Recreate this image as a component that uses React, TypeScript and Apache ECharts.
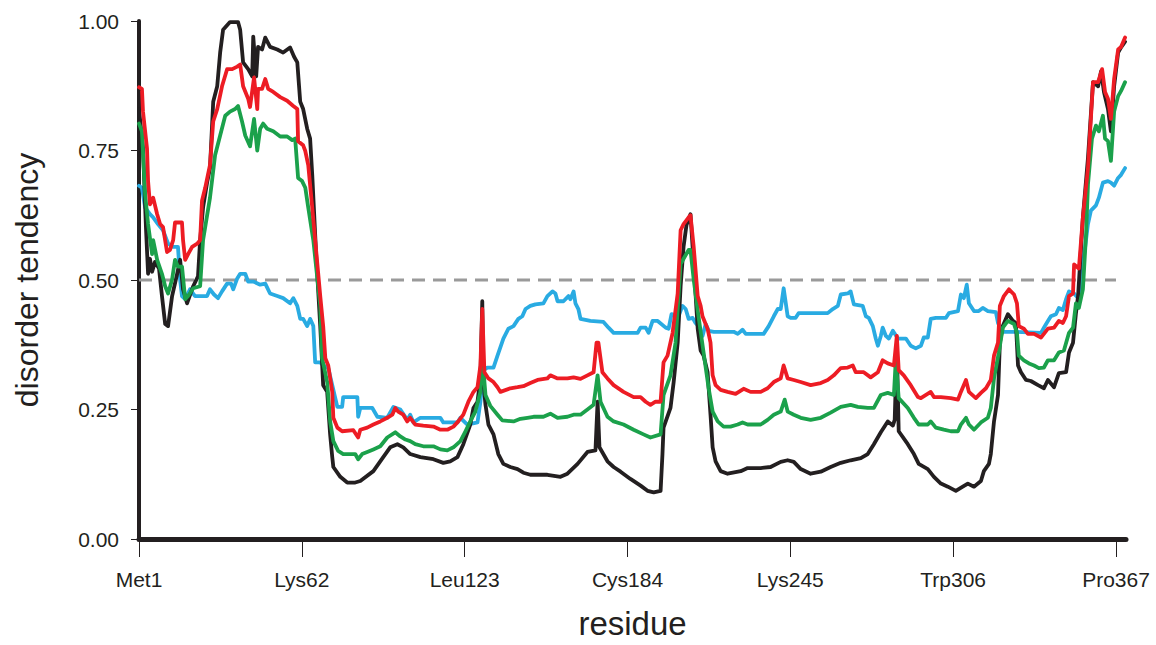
import React, { useEffect, useRef } from "react";
import * as echarts from "echarts";

const residueTicks = [1, 62, 123, 184, 245, 306, 367];
const residueLabels = ["Met1", "Lys62", "Leu123", "Cys184", "Lys245", "Trp306", "Pro367"];
const valueTicks = [0, 0.25, 0.5, 0.75, 1];
const thresholdX = [1, 367];
const thresholdY = [0.5, 0.5];

const blackX = [1, 2.5, 3.6, 4.4, 5.1, 5.9, 7, 8.5, 9.6, 10.8, 11.9, 13.4, 15.3, 16.4, 17.5, 19, 21.3, 23.1, 23.9, 25, 26.5, 27.6, 28.8, 30.3, 31.4, 32.5, 35.1, 38.1, 38.9, 40, 41.9, 43.4, 43.8, 44.9, 45.6, 47.1, 48.3, 50.1, 52.8, 55, 57.6, 59.1, 60.3, 61.4, 62.5, 64, 65.1, 65.9, 67.4, 68.9, 70, 71.5, 72.6, 73.4, 73.8, 76.4, 79, 82, 83.9, 88.8, 92.5, 95.1, 97.8, 100, 102.6, 106.4, 111.3, 115, 117.6, 120.3, 122.5, 125.1, 126.3, 127.8, 128.9, 129.6, 130, 130.8, 131.9, 133.8, 135.6, 137.5, 140.1, 142.8, 145, 147.6, 154, 158.9, 161.5, 165.3, 169, 172, 172.8, 173.5, 176.5, 178.8, 181.4, 185.1, 188.9, 191.5, 193.8, 196.4, 197.1, 197.5, 200.1, 201.3, 202.8, 203.9, 205, 206.1, 207.6, 208.8, 210.3, 211.4, 212.5, 214, 215.1, 215.9, 217, 218.9, 221.5, 226.4, 229, 233.9, 237.6, 241.4, 244, 246.3, 248.9, 252.6, 256.4, 260.1, 263.9, 267.6, 271.4, 274, 276.3, 278.9, 281.5, 283.4, 284.1, 284.9, 285.6, 289, 291.3, 293.1, 296.5, 298.8, 301.4, 304, 307, 309.6, 311.5, 313.8, 316.4, 317.5, 319.4, 320.1, 321.3, 322.8, 323.5, 324.6, 326.5, 328.4, 329.5, 330.3, 331.4, 333.3, 335.1, 337.8, 340, 341.5, 343.8, 345.6, 348.3, 349.4, 350.9, 352, 352.8, 354.6, 356.5, 358.4, 360.3, 361.4, 362.5, 364, 365.1, 366.3, 367.8, 368.9, 370.4];
const blackY = [0.83, 0.754, 0.602, 0.512, 0.541, 0.516, 0.535, 0.522, 0.469, 0.415, 0.411, 0.469, 0.512, 0.539, 0.482, 0.455, 0.488, 0.507, 0.577, 0.64, 0.688, 0.716, 0.844, 0.874, 0.939, 0.983, 0.998, 0.998, 0.983, 0.92, 0.907, 0.893, 0.97, 0.893, 0.95, 0.945, 0.968, 0.95, 0.945, 0.939, 0.949, 0.931, 0.92, 0.844, 0.83, 0.792, 0.773, 0.703, 0.545, 0.411, 0.297, 0.284, 0.202, 0.158, 0.139, 0.12, 0.109, 0.109, 0.112, 0.131, 0.158, 0.177, 0.183, 0.177, 0.164, 0.158, 0.154, 0.147, 0.15, 0.158, 0.183, 0.221, 0.253, 0.265, 0.31, 0.459, 0.303, 0.259, 0.221, 0.202, 0.164, 0.145, 0.139, 0.135, 0.128, 0.124, 0.124, 0.12, 0.126, 0.145, 0.168, 0.171, 0.265, 0.177, 0.15, 0.139, 0.13, 0.116, 0.103, 0.093, 0.09, 0.093, 0.164, 0.215, 0.253, 0.303, 0.379, 0.488, 0.564, 0.606, 0.627, 0.531, 0.406, 0.364, 0.354, 0.322, 0.24, 0.177, 0.15, 0.131, 0.126, 0.131, 0.137, 0.137, 0.139, 0.149, 0.152, 0.149, 0.135, 0.126, 0.13, 0.139, 0.147, 0.152, 0.156, 0.164, 0.183, 0.206, 0.227, 0.219, 0.23, 0.37, 0.208, 0.183, 0.164, 0.145, 0.135, 0.12, 0.107, 0.101, 0.093, 0.101, 0.107, 0.101, 0.112, 0.131, 0.145, 0.164, 0.227, 0.278, 0.379, 0.411, 0.434, 0.421, 0.417, 0.335, 0.322, 0.307, 0.305, 0.297, 0.291, 0.307, 0.293, 0.32, 0.322, 0.36, 0.379, 0.436, 0.469, 0.621, 0.735, 0.882, 0.874, 0.903, 0.863, 0.83, 0.787, 0.874, 0.939, 0.949, 0.96];

const redX = [1, 2.1, 2.5, 4, 4.4, 5.1, 6.3, 7.8, 8.9, 10, 11.5, 12.6, 13.8, 14.5, 17.1, 17.5, 18.3, 19.4, 20.9, 22.8, 23.9, 24.6, 25.8, 27.6, 28.8, 30.3, 32.1, 34, 35.9, 37.8, 38.9, 40, 41.9, 42.6, 44.1, 45.3, 45.6, 47.1, 48.3, 49.4, 51.3, 53.9, 56.5, 58.8, 60.3, 60.6, 62.5, 63.3, 64.4, 65.9, 67, 68.9, 70, 70.8, 71.9, 73.4, 73.8, 75.3, 77.1, 81.3, 83.1, 83.9, 86.5, 88.8, 91.4, 94, 95.9, 97, 98.1, 100, 101.5, 102.6, 104.5, 107.5, 111.3, 113.9, 116.5, 118.8, 120.6, 122.5, 124.4, 126.3, 127.8, 128.9, 129.6, 130.4, 131.9, 133.8, 135.3, 136.4, 140.1, 142.8, 145, 147.6, 150.3, 154, 155.1, 157.8, 161.5, 163.8, 166.4, 169, 171.3, 172.4, 173.1, 174.6, 176.5, 178.8, 182.5, 186.3, 188.9, 190.8, 192.6, 194.5, 196.4, 197.5, 199, 200.9, 202.8, 203.9, 205, 206.9, 207.6, 208.8, 210.3, 211.4, 212.1, 214, 215.1, 215.9, 217, 218.9, 221.5, 224.5, 227.5, 230.1, 233.9, 236.5, 238.8, 241.4, 242.5, 244, 246.3, 248.9, 252.6, 256.4, 259, 261.3, 263.9, 266.5, 268.4, 269.5, 272.5, 275.1, 277.8, 279.6, 281.5, 283.8, 284.9, 285.6, 287.5, 290.1, 292.8, 293.9, 297.6, 298.8, 301.4, 305.1, 307.8, 308.9, 310.8, 311.9, 314.5, 316.4, 318.3, 320.1, 321.3, 322.8, 323.5, 325, 326.9, 328.8, 329.9, 330.6, 332.5, 334, 336.3, 338.9, 340, 341.5, 343.8, 345.6, 347.1, 348.3, 349.4, 350.9, 351.3, 353.1, 354.6, 356.5, 358.4, 360.3, 361.8, 362.9, 364, 365.1, 366.3, 367.8, 368.9, 370.4];
const redY = [0.872, 0.869, 0.825, 0.754, 0.691, 0.646, 0.659, 0.627, 0.608, 0.602, 0.554, 0.558, 0.577, 0.611, 0.611, 0.577, 0.539, 0.55, 0.564, 0.57, 0.577, 0.653, 0.678, 0.722, 0.806, 0.83, 0.874, 0.907, 0.907, 0.912, 0.916, 0.874, 0.85, 0.834, 0.891, 0.83, 0.869, 0.869, 0.888, 0.869, 0.863, 0.853, 0.846, 0.836, 0.83, 0.768, 0.76, 0.749, 0.722, 0.64, 0.577, 0.469, 0.411, 0.349, 0.335, 0.284, 0.234, 0.215, 0.208, 0.21, 0.196, 0.211, 0.215, 0.221, 0.227, 0.234, 0.24, 0.253, 0.246, 0.24, 0.227, 0.234, 0.221, 0.219, 0.217, 0.211, 0.211, 0.217, 0.227, 0.24, 0.265, 0.284, 0.293, 0.335, 0.444, 0.322, 0.31, 0.303, 0.293, 0.284, 0.291, 0.293, 0.295, 0.301, 0.307, 0.31, 0.316, 0.31, 0.31, 0.312, 0.309, 0.316, 0.322, 0.379, 0.379, 0.322, 0.31, 0.297, 0.284, 0.274, 0.274, 0.265, 0.259, 0.265, 0.265, 0.341, 0.354, 0.398, 0.474, 0.596, 0.608, 0.621, 0.625, 0.564, 0.469, 0.45, 0.43, 0.406, 0.379, 0.316, 0.297, 0.288, 0.284, 0.28, 0.29, 0.284, 0.284, 0.291, 0.303, 0.31, 0.335, 0.31, 0.307, 0.303, 0.297, 0.301, 0.307, 0.316, 0.33, 0.331, 0.335, 0.322, 0.322, 0.312, 0.322, 0.345, 0.339, 0.335, 0.392, 0.326, 0.316, 0.297, 0.274, 0.272, 0.284, 0.274, 0.274, 0.272, 0.269, 0.284, 0.307, 0.284, 0.272, 0.282, 0.291, 0.307, 0.354, 0.379, 0.45, 0.469, 0.482, 0.472, 0.455, 0.411, 0.406, 0.396, 0.396, 0.389, 0.396, 0.406, 0.408, 0.421, 0.417, 0.43, 0.469, 0.474, 0.53, 0.522, 0.621, 0.716, 0.882, 0.882, 0.907, 0.863, 0.85, 0.811, 0.888, 0.945, 0.95, 0.968];

const greenX = [1, 2.1, 3.3, 4.4, 5.9, 6.3, 7.8, 9.6, 10.8, 11.9, 13.4, 14.5, 15.6, 17.1, 18.3, 19.4, 21.3, 23.9, 25, 27.6, 29.5, 31.4, 33.3, 35.1, 37, 38.1, 39.6, 40.8, 42.6, 44.1, 45.3, 46.4, 47.5, 49, 51.3, 53.9, 56.5, 58.4, 59.5, 60.6, 62.1, 63.3, 64.4, 66.3, 68.9, 69.6, 71.5, 72.6, 73.8, 75.6, 77.5, 82, 83.1, 84.6, 86.5, 88.8, 91.4, 94, 97, 98.9, 100.8, 102.6, 104.5, 107.5, 111.3, 113.9, 116.5, 118.8, 121.4, 123.3, 125.1, 127, 128.9, 129.6, 130.8, 132.6, 135.3, 137.1, 141.3, 143.9, 146.5, 148.8, 152.5, 155.1, 157.8, 161.5, 163.8, 166.4, 169, 171.3, 172.8, 173.9, 176.5, 178.8, 182.5, 186.3, 190, 192.6, 196.4, 197.5, 200.1, 202, 203.9, 205, 206.9, 207.6, 208.8, 210.6, 212.5, 214.4, 215.9, 217.8, 220, 222.6, 225.3, 227.1, 229, 233.9, 236.5, 238.8, 241.4, 242.9, 244, 246.3, 248.9, 252.6, 256.4, 260.1, 263.9, 267.6, 270.3, 274, 276.3, 278.9, 281.5, 283.8, 284.5, 285.6, 289, 291.3, 293.1, 296.5, 297.6, 299.5, 302.5, 305.1, 307.8, 308.9, 310.8, 311.9, 313.8, 316.4, 319, 320.1, 321.3, 323.1, 324.6, 326.5, 328.8, 329.9, 330.6, 332.5, 334.4, 336.3, 338.1, 340, 341.5, 343.8, 345.6, 347.5, 349.4, 350.9, 352, 353.1, 354.6, 355.8, 356.5, 358, 359.5, 360.6, 362.1, 362.9, 364, 365.1, 366.3, 367.8, 368.9, 370.4];
const greenY = [0.802, 0.787, 0.665, 0.608, 0.55, 0.577, 0.539, 0.512, 0.488, 0.474, 0.501, 0.539, 0.526, 0.526, 0.463, 0.469, 0.484, 0.488, 0.577, 0.659, 0.741, 0.779, 0.817, 0.825, 0.83, 0.836, 0.806, 0.779, 0.758, 0.811, 0.75, 0.792, 0.802, 0.792, 0.787, 0.777, 0.777, 0.77, 0.773, 0.697, 0.691, 0.678, 0.64, 0.577, 0.45, 0.349, 0.303, 0.227, 0.189, 0.17, 0.164, 0.164, 0.154, 0.164, 0.168, 0.173, 0.179, 0.196, 0.206, 0.198, 0.192, 0.189, 0.183, 0.179, 0.179, 0.173, 0.171, 0.177, 0.189, 0.208, 0.227, 0.246, 0.284, 0.354, 0.278, 0.257, 0.24, 0.229, 0.227, 0.232, 0.234, 0.236, 0.236, 0.242, 0.234, 0.236, 0.24, 0.24, 0.25, 0.259, 0.316, 0.265, 0.236, 0.227, 0.221, 0.211, 0.202, 0.196, 0.202, 0.278, 0.316, 0.379, 0.531, 0.541, 0.558, 0.558, 0.501, 0.43, 0.36, 0.291, 0.246, 0.227, 0.217, 0.217, 0.221, 0.225, 0.221, 0.221, 0.23, 0.24, 0.246, 0.269, 0.246, 0.24, 0.234, 0.23, 0.234, 0.244, 0.255, 0.259, 0.255, 0.253, 0.253, 0.278, 0.282, 0.278, 0.345, 0.272, 0.253, 0.234, 0.221, 0.221, 0.227, 0.215, 0.211, 0.208, 0.208, 0.221, 0.234, 0.221, 0.211, 0.225, 0.234, 0.253, 0.31, 0.36, 0.408, 0.421, 0.415, 0.398, 0.354, 0.345, 0.339, 0.335, 0.33, 0.331, 0.345, 0.345, 0.36, 0.364, 0.398, 0.408, 0.455, 0.446, 0.482, 0.589, 0.684, 0.773, 0.798, 0.787, 0.817, 0.773, 0.768, 0.73, 0.825, 0.855, 0.865, 0.882];

const blueX = [1, 2.1, 3.3, 5.1, 6.3, 8.1, 10, 11.9, 13.8, 15.6, 16.4, 17.1, 18.3, 20.1, 22, 26.5, 27.6, 29.1, 30.6, 32.1, 34, 35.5, 36.3, 37.8, 38.9, 40.8, 41.9, 43.8, 46.4, 48.3, 50.1, 52.8, 55, 57.6, 58.8, 60.3, 61.4, 62.5, 64, 65.1, 66.3, 67, 68.9, 70, 71.9, 73.4, 75.3, 77.1, 77.5, 82.8, 83.1, 83.9, 88.4, 90.3, 94, 96.3, 98.9, 101.5, 102.6, 103.8, 106.4, 113.9, 115, 120.3, 121.4, 124, 127.8, 128.9, 130, 131.5, 133.8, 135.3, 137.5, 139.4, 141.3, 143.1, 144.6, 145.8, 147.6, 149.5, 152.5, 154, 155.9, 157, 157.8, 160, 161.9, 162.6, 163.8, 164.5, 165.6, 166.4, 170.1, 175, 176.9, 178.8, 184, 187.8, 188.9, 190.8, 191.9, 193.4, 195.3, 198.3, 199.4, 200.5, 203.1, 204.6, 205.8, 206.9, 208.4, 209.5, 210.6, 212.1, 213.3, 214.4, 216.3, 223.8, 225.3, 227.1, 228.3, 235, 236.9, 238.8, 240.3, 241.4, 242.5, 244, 245.1, 247, 248.1, 259, 260.9, 262.8, 263.9, 266.5, 267.6, 268.8, 272.1, 273.3, 274.4, 275.9, 277, 277.8, 278.9, 279.6, 280.8, 281.9, 283.4, 285.3, 288.3, 290.1, 292, 293.9, 295, 296.5, 297.6, 299.5, 303.3, 304.4, 307.8, 308.9, 310, 311.1, 311.9, 313.8, 315.6, 317.1, 319, 322, 322.8, 324.6, 328.8, 338.9, 340, 341.5, 342.6, 344.5, 345.6, 347.1, 348.3, 349.4, 351.3, 352.8, 353.9, 355, 356.5, 357.6, 359.5, 360.6, 362.1, 364, 365.1, 366.3, 367.8, 368.9, 370.4];
const blueY = [0.682, 0.678, 0.64, 0.627, 0.621, 0.608, 0.596, 0.57, 0.564, 0.564, 0.501, 0.469, 0.463, 0.482, 0.469, 0.469, 0.482, 0.472, 0.465, 0.478, 0.493, 0.493, 0.482, 0.503, 0.512, 0.512, 0.497, 0.497, 0.491, 0.493, 0.474, 0.469, 0.465, 0.455, 0.465, 0.45, 0.425, 0.425, 0.411, 0.425, 0.411, 0.341, 0.341, 0.335, 0.33, 0.297, 0.255, 0.255, 0.274, 0.274, 0.236, 0.253, 0.253, 0.236, 0.234, 0.255, 0.25, 0.23, 0.24, 0.225, 0.234, 0.234, 0.225, 0.225, 0.234, 0.221, 0.225, 0.265, 0.326, 0.331, 0.331, 0.354, 0.387, 0.406, 0.411, 0.425, 0.43, 0.444, 0.45, 0.453, 0.455, 0.469, 0.478, 0.474, 0.459, 0.459, 0.469, 0.463, 0.478, 0.455, 0.444, 0.425, 0.421, 0.419, 0.408, 0.398, 0.398, 0.398, 0.408, 0.408, 0.398, 0.421, 0.421, 0.408, 0.406, 0.434, 0.43, 0.45, 0.444, 0.425, 0.427, 0.417, 0.411, 0.392, 0.415, 0.402, 0.4, 0.4, 0.396, 0.404, 0.396, 0.396, 0.411, 0.43, 0.444, 0.444, 0.484, 0.43, 0.427, 0.427, 0.436, 0.436, 0.444, 0.45, 0.472, 0.474, 0.478, 0.453, 0.45, 0.43, 0.427, 0.411, 0.387, 0.373, 0.392, 0.408, 0.392, 0.387, 0.402, 0.387, 0.387, 0.373, 0.368, 0.373, 0.389, 0.389, 0.425, 0.427, 0.427, 0.436, 0.44, 0.472, 0.465, 0.491, 0.455, 0.44, 0.44, 0.446, 0.44, 0.438, 0.417, 0.4, 0.4, 0.398, 0.408, 0.421, 0.43, 0.434, 0.446, 0.442, 0.463, 0.478, 0.474, 0.465, 0.482, 0.545, 0.608, 0.634, 0.644, 0.659, 0.688, 0.691, 0.688, 0.682, 0.697, 0.703, 0.716];

const zip = (xs: number[], ys: number[]) => xs.map((x, i) => [x, ys[i]]);

const FONT = "'Liberation Sans', Arial, Helvetica, sans-serif";
const INK = "#231f20";

export default function App() {
  const ref = useRef<HTMLDivElement>(null);
  useEffect(() => {
    if (!ref.current) return;
    const chart = echarts.init(ref.current, undefined, { renderer: "svg" });
    const lineSeries = (name: string, xs: number[], ys: number[], color: string) => ({
      name,
      type: "line",
      data: zip(xs, ys),
      showSymbol: false,
      symbol: "none",
      smooth: false,
      lineStyle: { color, width: 3.8, join: "round", cap: "round" },
      z: 3,
    });
    chart.setOption({
      animation: false,
      backgroundColor: "#ffffff",
      grid: { left: 139, right: 30, top: 21, bottom: 99, containLabel: false },
      xAxis: {
        type: "value",
        min: 1,
        max: 370.75,
        name: "residue",
        nameLocation: "middle",
        nameGap: 68,
        nameTextStyle: { fontFamily: FONT, fontSize: 33, color: INK },
        axisLine: { show: true, lineStyle: { color: INK, width: 5 } },
        axisTick: {
          show: true,
          customValues: residueTicks,
          length: 18,
          lineStyle: { color: INK, width: 1 },
        },
        axisLabel: {
          customValues: residueTicks,
          formatter: (v: number) => residueLabels[residueTicks.indexOf(Math.round(v))] ?? "",
          margin: 30,
          fontFamily: FONT,
          fontSize: 21,
          color: INK,
        },
        splitLine: { show: false },
      },
      yAxis: {
        type: "value",
        min: 0,
        max: 1,
        name: "disorder tendency",
        nameLocation: "middle",
        nameGap: 96,
        nameTextStyle: { fontFamily: FONT, fontSize: 32, color: INK },
        axisLine: { show: true, lineStyle: { color: INK, width: 4 } },
        axisTick: {
          show: true,
          customValues: valueTicks,
          length: 8,
          lineStyle: { color: INK, width: 1 },
        },
        axisLabel: {
          customValues: valueTicks,
          formatter: (v: number) => v.toFixed(2),
          margin: 20,
          fontFamily: FONT,
          fontSize: 21,
          color: INK,
        },
        splitLine: { show: false },
      },
      series: [
        {
          name: "threshold",
          type: "line",
          data: zip(thresholdX, thresholdY),
          showSymbol: false,
          symbol: "none",
          lineStyle: { color: "#9a9a9a", width: 3, type: [13, 8] },
          z: 2,
        },
        lineSeries("blue", blueX, blueY, "#29abe2"),
        lineSeries("black", blackX, blackY, "#231f20"),
        lineSeries("green", greenX, greenY, "#1ba14b"),
        lineSeries("red", redX, redY, "#ed1c24"),
      ],
    });
    return () => chart.dispose();
  }, []);
  return (
    <div
      ref={ref}
      style={{ position: "absolute", left: 0, top: 0, width: 1156, height: 645 }}
    />
  );
}
